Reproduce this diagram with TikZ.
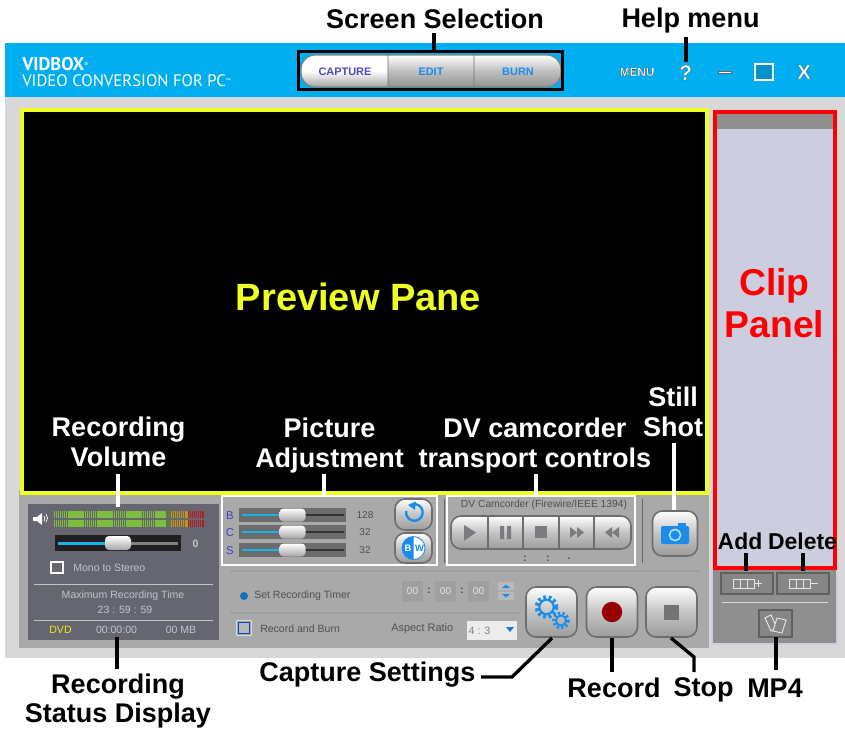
\documentclass[tikz,border=0pt]{standalone}
\usepackage{fontspec}
\setmainfont{Liberation Sans}
\newfontfamily\logofont{PT Sans}
\usetikzlibrary{arrows.meta}
\definecolor{hdr}{HTML}{00AEEF}
\definecolor{bodygr}{HTML}{D8D8D8}
\definecolor{panelgr}{HTML}{A9A9A9}
\definecolor{darkpan}{HTML}{666670}
\definecolor{ylw}{HTML}{EEFF22}
\definecolor{redc}{HTML}{FF0000}
\definecolor{lilac}{HTML}{CDCDE0}
\definecolor{clipgr}{HTML}{8F8F8F}
\definecolor{bluec}{HTML}{1A8CEB}
\definecolor{cyanb}{HTML}{18B4E8}
\definecolor{txtd}{HTML}{505050}
\definecolor{txtl}{HTML}{C4C4CC}
\definecolor{btnedge}{HTML}{6E6E72}
\definecolor{btnlow}{HTML}{9C9C9C}
\definecolor{meterg}{HTML}{7DBE3C}
\definecolor{meterd}{HTML}{5E7E48}
\definecolor{metero}{HTML}{C8960A}
\definecolor{meterr}{HTML}{B01C24}
\definecolor{clipbtn}{HTML}{868686}
\newcommand{\fs}[1]{\fontsize{#1}{#1}\selectfont}
\newcommand{\outl}[1]{\special{pdf:code 2 Tr 0.1 w 0.15 0.15 0.15 RG}#1\special{pdf:code 0 Tr}}
\tikzset{
  x=0.75pt,y=-0.75pt,
  sized/.style 2 args={minimum width=#1*0.75pt,minimum height=#2*0.75pt,inner sep=0pt,outer sep=0pt},
  lbl/.style={font=\fs{20.25}\bfseries,inner sep=0pt,align=center},
  lblsm/.style={font=\fs{17.2}\bfseries,inner sep=0pt},
  lblml/.style={lbl,execute at begin node={\setlength{\baselineskip}{22.5pt}}},
  conn/.style={line width=2.5pt,black},
  connw/.style={line width=2.5pt,white},
  btn/.style={draw=btnedge,line width=1.2pt,rounded corners=7.5pt,top color=white,bottom color=btnlow,middle color=btnlow!60!white},
  small/.style={font=\fs{7.9},inner sep=0pt},
  tab/.style={font=\fs{8.2}\bfseries,inner sep=0pt},
  thumb/.style={rounded corners=3pt,top color=white,bottom color=gray!70!white,sized={26}{14}},
  clipb/.style={draw=gray!75!black,fill=clipbtn,line width=.8pt},
}
\begin{document}
\begin{tikzpicture}
\useasboundingbox (0,0) rectangle (845,728);
\fill[white] (0,0) rectangle (845,728);
% window
\fill[bodygr] (5,97) rectangle (845,658);
\fill[hdr] (5,43) rectangle (845,97);
\node[anchor=west,inner sep=0pt,text=white,font=\logofont\fs{13.8}\bfseries] (logoa) at (22,64) {VIDBOX\raisebox{3pt}{\fs{4}®}};
\node[anchor=west,inner sep=0pt,text=white,font=\logofont\fs{12.5}] (logob) at (22,81) {VIDEO CONVERSION FOR PC\raisebox{3pt}{\fs{4}™}};
% tabs
\begin{scope}
\clip[rounded corners=11pt] (301,55) rectangle (561,87);
\shade[top color=white,bottom color=gray!70!white,middle color=white] (301,55) rectangle (388,87);
\shade[top color=white,bottom color=gray!85!white,middle color=gray!50!white] (388,55) rectangle (561,87);
\fill[gray!90!black] (387.6,55) rectangle (388.4,87) (473.6,55) rectangle (474.4,87);
\end{scope}
\draw[gray,line width=.8pt,rounded corners=11pt] (301,55) rectangle (561,87);
\node[draw=black,line width=2.4pt,sized={264}{38}] (tabbox) at (430.5,70.5) {};
\node[tab,text=blue!40!gray] (tcap) at (345,72) {CAPTURE};
\node[tab,text=bluec] (tedit) at (431,72) {EDIT};
\node[tab,text=bluec] (tburn) at (518,72) {BURN};
% header right
\node[text=white,font=\fs{8.8}\bfseries,inner sep=0pt] (menu) at (637,72) {\outl{MENU}};
\node[text=white,font=\fs{16}\bfseries,inner sep=0pt] (help) at (685.5,72.5) {\outl{?}};
\fill[white,draw=black!60,line width=.3pt] (718,71) rectangle (731,73.5);
\node[draw=white,line width=1.5pt,fill=hdr!85!black,sized={18}{16}] (maxi) at (763.5,72) {};
\node[text=white,font=\fs{15}\bfseries,inner sep=0pt] (closex) at (804,72) {\outl{X}};
% preview
\fill[panelgr] (19,490) rectangle (709,648);
\node[draw=ylw,fill=black,line width=3pt,sized={685}{383},anchor=north west] (preview) at (22,110) {};
\node[text=ylw,font=\fs{28.5}\bfseries,inner sep=0pt] (previewlbl) at (358.5,297) {Preview Pane};
% clip panel
\fill[clipgr,draw=lilac,line width=1pt] (712,568) rectangle (837,644);
\node[draw=redc,fill=lilac,line width=3pt,sized={120}{456},anchor=north west] (clip) at (715,112) {};
\fill[clipgr] (717,114) rectangle (833,129);
\node[text=redc,font=\fs{28}\bfseries,inner sep=0pt,align=center,execute at begin node={\setlength{\baselineskip}{31pt}}] (cliplbl) at (774.5,303) {Clip\\Panel};
\node[clipb,sized={52}{21}] (addb) at (747,583.5) {};
\node[clipb,sized={52}{21}] (delb) at (803,583.5) {};
\foreach \o in {0,1,2}{
  \draw[white!80!gray,line width=.7pt] (733+\o*7,579) rectangle ++(7,9);
  \draw[white!80!gray,line width=.7pt] (789+\o*7,579) rectangle ++(7,9);
}
\draw[white!80!gray,line width=1.2pt] (755,583.5) -- (762,583.5) (758.5,580) -- (758.5,587) (811,583.5) -- (818,583.5);
\draw[white!70!gray,line width=.7pt] (722,602) -- (828,602);
\node[clipb,sized={33}{27}] (mpb) at (775.5,623.5) {};
\draw[white!80!gray,line width=.7pt] (765,618) -- (771,615) -- (777,628) -- (771,631) -- cycle;
\draw[white!80!gray,line width=.7pt,fill=clipbtn] (777,618) -- (786,620) -- (782,633) -- (773,631) -- cycle;
% status panel
\fill[darkpan] (28,504) rectangle (219,640);
\fill[white] (33,517) rectangle (37,521) (37,517) -- (42,513) -- (42,525) -- (37,521) -- cycle;
\draw[white,line width=.5pt] (44,516) arc[start angle=-40,end angle=40,radius=4];
\draw[white,line width=.5pt] (46,514) arc[start angle=-40,end angle=40,radius=6.5];
\foreach \yy in {514.3,523.5}{
  \draw[meterg,line width=4.8pt,dash pattern=on 1.1pt off .35pt] (54,\yy) -- (166,\yy);
  \draw[meterd,line width=4.8pt,dash pattern=on 1.1pt off .35pt] (166,\yy) -- (171,\yy);
  \draw[metero,line width=4.8pt,dash pattern=on 1.1pt off .35pt] (171,\yy) -- (188,\yy);
  \draw[meterr,line width=4.8pt,dash pattern=on 1.1pt off .35pt] (188,\yy) -- (204,\yy);
}
\fill[black!70!darkpan] (55,535) rectangle (181,551);
\fill[gray] (58,542) rectangle (178,545);
\fill[cyanb] (58,542) rectangle (106,545);
\node[thumb] (volthumb) at (118,543) {};
\node[small,text=txtl,font=\fs{8}\bfseries] (volval) at (195.5,543.5) {0};
\node[draw=white,line width=.9pt,sized={12}{11}] (monochk) at (57,567.5) {};
\node[small,anchor=west,text=txtl] (mono) at (73,568) {Mono to Stereo};
\draw[txtl,line width=.6pt] (34,584) -- (213,584) (34,620) -- (213,620);
\node[small,text=txtl] (maxt) at (123,595.5) {Maximum Recording Time};
\node[small,text=txtl] (maxv) at (125,609.5) {23 : 59 : 59};
\node[small,text=yellow!90!gray] (dvd) at (60.5,630) {DVD};
\node[small,text=txtl] (tc) at (116.5,630) {00:00:00};
\node[small,text=txtl] (mb) at (181,630) {00 MB};
% picture adjustment
\node[draw=white,line width=1.6pt,sized={215}{69}] (picbox) at (329.5,530.5) {};
\foreach \yy/\ll/\vv in {515/B/128,532/C/32,550/S/32}{
  \fill[gray!85!black] (239,\yy-7) rectangle (346,\yy+7);
  \fill[black!60!gray] (242,\yy-1) rectangle (344,\yy+1);
  \fill[cyanb] (242,\yy-1) rectangle (282,\yy+1);
  \node[thumb,sized={26}{13}] at (292.5,\yy) {};
  \node[small,text=blue!50!gray,font=\fs{8.5}] at (230,\yy+1) {\ll};
  \node[small,text=txtd,font=\fs{7.5}] at (365,\yy) {\vv};
}
\node[btn,sized={37}{31}] (reset) at (413.5,514.5) {};
\draw[bluec,line width=1.8pt] (406.2,511) arc[start angle=190,end angle=-120,radius=8.3];
\fill[bluec] (408,505) -- (416,501.5) -- (415,510) -- cycle;
\node[btn,sized={37}{30}] (bwbtn) at (413.5,548) {};
\fill[white] (413.5,548) circle[radius=11.5];
\fill[bluec] (413.5,536.5) arc[start angle=-90,end angle=-270,radius=11.5] -- cycle;
\draw[bluec,line width=.6pt] (413.5,548) circle[radius=11.5];
\node[inner sep=0,text=white,font=\fs{7}\bfseries] (bwb) at (408,548) {B};
\node[inner sep=0,text=bluec,font=\fs{7}\bfseries] (bww) at (419.5,548) {W};
\draw[gray!80!black,line width=.7pt] (444,499) -- (444,563) (642,499) -- (642,563);
% transport
\node[draw=white,line width=1.6pt,sized={188}{69}] (dvbox) at (541,530.5) {};
\node[small,text=txtd,font=\fs{7.7}] (dvt) at (544,504.5) {DV Camcorder (Firewire/IEEE 1394)};
\node[btn,sized={180}{33}] (trans) at (541,532.5) {};
\draw[btnedge,line width=.9pt] (488,516) -- (488,549) (523,516) -- (523,549) (559,516) -- (559,549) (594,516) -- (594,549);
\fill[btnedge!90!white] (464,525) -- (476,532.5) -- (464,541) -- cycle;
\fill[btnedge!90!white] (500,526) rectangle (504,539) (507,526) rectangle (511,539);
\fill[btnedge!90!white] (535,526) rectangle (547,538);
\fill[btnedge!90!white] (570,527) -- (577,532.5) -- (570,538) -- cycle (577,527) -- (584,532.5) -- (577,538) -- cycle;
\fill[btnedge!90!white] (612,527) -- (605,532.5) -- (612,538) -- cycle (619,527) -- (612,532.5) -- (619,538) -- cycle;
\node[small,text=txtd,font=\fs{8}\bfseries] (dots1) at (525,559) {:};
\node[small,text=txtd,font=\fs{8}\bfseries] (dots2) at (548,559) {:};
\node[small,text=txtd,font=\fs{8}\bfseries] (dots3) at (569,559) {.};
% still
\node[btn,sized={45}{45}] (still) at (675,533.5) {};
\fill[bluec,rounded corners=1pt] (661,526) rectangle (689,544);
\fill[bluec] (678,522.5) rectangle (686,527);
\draw[white!70!bluec,line width=1.2pt] (675,535) circle[radius=5.6];
% timer
\draw[gray!75!white,line width=.8pt] (230,571) -- (700,571) (230,613) -- (520,613);
\fill[bluec!80!black] (244,596) circle[radius=4];
\node[small,anchor=west,text=txtd] (timer) at (254,596) {Set Recording Timer};
\foreach \xx/\n in {412.5/ta,445.5/tb,478.5/tc2}{
  \node[fill=gray!75!white,sized={21}{21},text=white!80!gray,font=\fs{7.5}] (\n) at (\xx,591.5) {00};
}
\node[small,text=txtd,font=\fs{8}\bfseries] (c1) at (429,591) {:};
\node[small,text=txtd,font=\fs{8}\bfseries] (c2) at (462,591) {:};
\fill[gray!55!white] (498,582) rectangle (514,590) (498,592) rectangle (514,600);
\fill[bluec] (506,584.5) -- (510,588) -- (502,588) -- cycle (506,597.5) -- (510,594) -- (502,594) -- cycle;
\node[draw=blue!60!cyan!70!black,fill=gray!55!white,line width=1.2pt,sized={11}{11}] (burnchk) at (244,628) {};
\draw[white!70!gray,line width=.8pt] (236.5,620.5) rectangle (251.5,635.5);
\node[small,anchor=west,text=txtd] (burn) at (260,629) {Record and Burn};
\node[small,anchor=west,text=txtd,font=\fs{8.2}] (aspect) at (391,629) {Aspect Ratio};
\fill[white!85!gray] (467,621) rectangle (517,640);
\node[small,text=gray,font=\fs{8}] (ratio) at (479.5,630.5) {4 : 3};
\fill[bluec!90!black] (506,627) -- (514,627) -- (510,632) -- cycle;
% big buttons
\node[btn,sized={51}{50}] (gears) at (551.5,612) {};
\begin{scope}[bluec]
\draw[line width=1.6pt] (546.5,607) circle[radius=7.2];
\draw[line width=3pt,dash pattern=on 2pt off 2pt] (546.5,607) circle[radius=9.8];
\draw[line width=1.4pt] (561,620.5) circle[radius=5];
\draw[line width=2.4pt,dash pattern=on 1.6pt off 1.7pt] (561,620.5) circle[radius=7.2];
\end{scope}
\node[btn,sized={51}{50}] (recb) at (612,612) {};
\fill[red!55!black!90!red] (612,612) circle[radius=10.2];
\node[btn,sized={51}{50}] (stopb) at (671.5,612) {};
\fill[black!55!white] (664,604.5) rectangle (679,619.5);
% labels
\node[lbl] (lscreen) at (435,19) {Screen Selection};
\node[lbl] (lhelp) at (690.5,21) {Help menu};
\node[lblml,text=white] (lvol) at (118.5,442) {Recording\\Volume};
\node[lblml,text=white] (lpic) at (329.5,446) {Picture\\Adjustment};
\node[lblml,text=white] (ldv) at (535,446) {DV camcorder\\transport controls};
\node[lblml,text=white] (lstill) at (673,412) {Still\\Shot};
\node[lblsm] (ladd) at (740,541) {Add};
\node[lblsm] (ldel) at (802.5,541) {Delete};
\node[lbl,execute at begin node={\setlength{\baselineskip}{22pt}}] (lstatus) at (118,701) {Recording\\Status Display};
\node[lbl] (lcap) at (367.5,675) {Capture Settings};
\node[lbl] (lrec) at (614,688) {Record};
\node[lbl] (lstop) at (703.5,690) {Stop};
\node[lbl] (lmp) at (775,688) {MP4};
% connectors
\coordinate (pscr) at (434,52);
\coordinate (phelp) at (686,62);
\coordinate (pvoltop) at (118,474);
\coordinate (pvol) at (118,507);
\coordinate (ppictop) at (324,474);
\coordinate (ppic) at (324,496);
\coordinate (pdvtop) at (536,474);
\coordinate (pdv) at (536,496);
\coordinate (pstilltop) at (674,443);
\coordinate (pstill) at (674,510);
\coordinate (paddtop) at (746,553);
\coordinate (padd) at (746,571);
\coordinate (pdeltop) at (803,553);
\coordinate (pdel) at (803,571);
\coordinate (pstat) at (117,637);
\coordinate (pstatb) at (117,669);
\coordinate (pmpb) at (776,670);
\coordinate (pcapa) at (481,677);
\coordinate (pcapb) at (512,677);
\coordinate (pcapc) at (552,638);
\coordinate (precb) at (612,672);
\coordinate (pstopb) at (694,672);
\coordinate (pstopm) at (694,657);
\coordinate (pstopa) at (671,638);
\draw[conn] (pscr |- lscreen.south) ++(0,4) -- (pscr);
\draw[conn] (phelp |- lhelp.south) ++(0,3) -- (phelp);
\draw[connw] (pvoltop) -- (pvol);
\draw[connw] (ppictop) -- (ppic);
\draw[connw] (pdvtop) -- (pdv);
\draw[connw] (pstilltop) -- (pstill);
\draw[conn] (paddtop) -- (padd);
\draw[conn] (pdeltop) -- (pdel);
\draw[conn] (pstat) -- (pstatb);
\draw[conn] (mpb.south -| pmpb) -- (pmpb);
\draw[conn] (pcapa) -- (pcapb) -- (pcapc);
\draw[conn] (recb.south) ++(0,1) -- (precb);
\draw[conn] (pstopa) -- (pstopm) -- (pstopb);
\end{tikzpicture}
\end{document}
